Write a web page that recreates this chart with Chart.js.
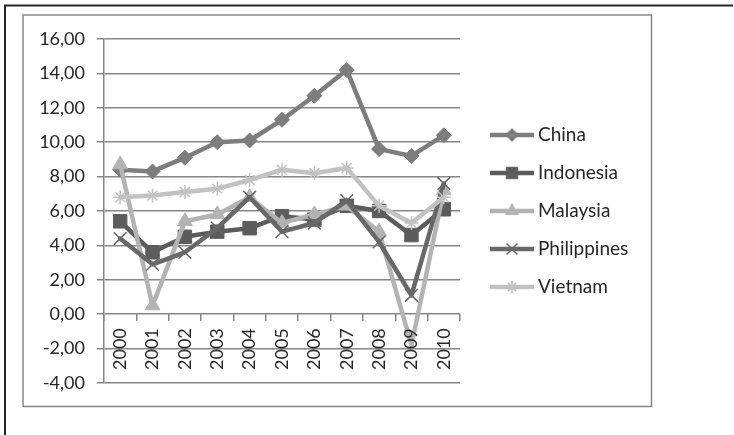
<!DOCTYPE html>
<html>
<head>
<meta charset="utf-8">
<script src="https://cdn.jsdelivr.net/npm/chart.js@4/dist/chart.umd.min.js"></script>
<style>
  html, body { margin: 0; padding: 0; background: #ffffff; }
  canvas { display: block; }
</style>
</head>
<body>
<canvas id="growth" width="734" height="435"></canvas>
<script>
// GDP growth, annual %
const years = ['2000', '2001', '2002', '2003', '2004', '2005', '2006', '2007', '2008', '2009', '2010'];
const china       = [8.4, 8.3, 9.1, 10.0, 10.1, 11.3, 12.7, 14.2, 9.6, 9.2, 10.4];
const indonesia   = [5.4, 3.6, 4.5, 4.8, 5.0, 5.7, 5.5, 6.3, 6.0, 4.6, 6.1];
const malaysia    = [8.7, 0.5, 5.4, 5.8, 6.8, 5.3, 5.8, 6.3, 4.8, -1.8, 7.2];
const philippines = [4.4, 2.9, 3.6, 5.0, 6.8, 4.8, 5.3, 6.6, 4.2, 1.1, 7.6];
const vietnam     = [6.8, 6.9, 7.1, 7.3, 7.8, 8.4, 8.2, 8.5, 6.3, 5.3, 6.8];
const seriesNames = ['China', 'Indonesia', 'Malaysia', 'Philippines', 'Vietnam'];
const yMin = -4, yMax = 16, yStep = 2;

const FONT = 'Lato, "Open Sans", sans-serif';
const TEXT = '#262626';
const AXIS = '#868686';

function series(label, data, color, style, radius, markerLine, order) {
  return {
    label, data, order,
    borderColor: color,
    backgroundColor: color,
    borderWidth: 4.5,
    borderJoinStyle: 'round',
    borderCapStyle: 'round',
    tension: 0,
    pointStyle: style,
    legendRadius: radius,
    // markers sitting below the category axis are left off
    pointRadius: c => (c.raw < 0 ? 0 : radius),
    pointHoverRadius: c => (c.raw < 0 ? 0 : radius),
    pointBackgroundColor: color,
    pointBorderColor: color,
    pointBorderWidth: markerLine
  };
}

// Page frame and the grey chart box behind the plot
const framePlugin = {
  id: 'frame',
  beforeDraw(chart) {
    const ctx = chart.ctx;
    ctx.save();
    ctx.fillStyle = '#ffffff';
    ctx.fillRect(0, 0, chart.width, chart.height);
    ctx.strokeStyle = '#262626';
    ctx.lineWidth = 2;
    ctx.beginPath();
    ctx.moveTo(5, 435);
    ctx.lineTo(5, 5.5);
    ctx.lineTo(733, 5.5);
    ctx.stroke();
    ctx.strokeStyle = AXIS;
    ctx.lineWidth = 1.5;
    ctx.strokeRect(23, 15, 628.5, 391.5);
    ctx.restore();
  }
};

// Legend on the right: line sample with marker, then the name
const sideLegend = {
  id: 'sideLegend',
  afterDraw(chart, args, opts) {
    const ctx = chart.ctx;
    chart.data.datasets.forEach((ds, i) => {
      const y = opts.top + i * opts.rowGap;
      ctx.save();
      ctx.strokeStyle = ds.borderColor;
      ctx.lineWidth = ds.borderWidth;
      ctx.beginPath();
      ctx.moveTo(opts.x, y);
      ctx.lineTo(opts.x + opts.lineLen, y);
      ctx.stroke();
      ctx.fillStyle = ds.pointBackgroundColor;
      ctx.strokeStyle = ds.pointBorderColor;
      ctx.lineWidth = ds.pointBorderWidth;
      Chart.helpers.drawPoint(ctx, {
        pointStyle: ds.pointStyle,
        radius: ds.legendRadius * 0.85,
        borderWidth: ds.pointBorderWidth,
        rotation: 0
      }, opts.x + opts.lineLen / 2, y);
      ctx.fillStyle = TEXT;
      ctx.font = opts.font;
      ctx.textBaseline = 'middle';
      ctx.textAlign = 'left';
      ctx.fillText(ds.label, opts.x + opts.lineLen + 4, y);
      ctx.restore();
    });
  }
};

new Chart(document.getElementById('growth'), {
  type: 'line',
  data: {
    labels: years,
    datasets: [
      series(seriesNames[0], china,       '#7d7d7d', 'rectRot',  7.5, 1,   4),
      series(seriesNames[1], indonesia,   '#5c5c5c', 'rect',     9.5, 1,   3),
      series(seriesNames[2], malaysia,    '#b3b3b3', 'triangle', 8.5, 1,   2),
      series(seriesNames[3], philippines, '#686868', 'crossRot', 9,   1.5, 1),
      series(seriesNames[4], vietnam,     '#c2c2c2', 'star',     7,   1.5, 0)
    ]
  },
  options: {
    responsive: false,
    animation: false,
    devicePixelRatio: 1,
    layout: { padding: { left: 0, right: 274, top: 39, bottom: 52 } },
    plugins: {
      legend: { display: false },
      tooltip: { enabled: false },
      sideLegend: { x: 490, lineLen: 44, top: 135, rowGap: 38, font: '19px ' + FONT }
    },
    scales: {
      x: {
        type: 'category',
        position: { y: 0 },
        offset: true,
        afterFit(scale) { scale.height = 0; },
        grid: {
          offset: true,
          drawOnChartArea: false,
          drawTicks: true,
          tickLength: 7,
          color: AXIS,
          lineWidth: 1.5
        },
        border: { display: false },
        ticks: {
          z: 1,
          minRotation: 90,
          maxRotation: 90,
          autoSkip: false,
          padding: 7,
          color: TEXT,
          font: { family: FONT, size: 18 }
        }
      },
      y: {
        min: yMin,
        max: yMax,
        afterFit(scale) { scale.width = 104; },
        grid: {
          color: AXIS,
          lineWidth: 1.5,
          tickLength: 7
        },
        border: { display: true, color: AXIS, width: 1.5 },
        ticks: {
          stepSize: yStep,
          padding: 12,
          color: TEXT,
          font: { family: FONT, size: 18 },
          callback: v => v.toFixed(2).replace('.', ',')
        }
      }
    }
  },
  plugins: [framePlugin, sideLegend]
});
</script>
</body>
</html>
